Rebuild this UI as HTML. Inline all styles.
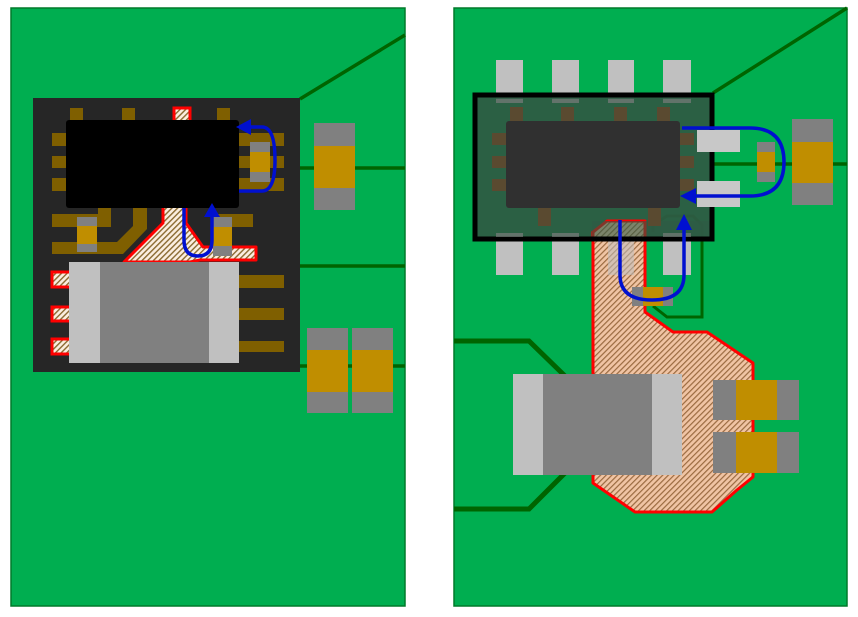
<!DOCTYPE html>
<html><head><style>html,body{margin:0;padding:0;background:#fff;}svg{display:block}</style></head>
<body>
<svg width="858" height="617" viewBox="0 0 858 617" xmlns="http://www.w3.org/2000/svg">
<defs>
<pattern id="h1" width="4" height="4" patternUnits="userSpaceOnUse" patternTransform="rotate(45)">
<rect width="4" height="4" fill="#fbeee0"/><rect width="1.4" height="4" fill="#8a6a30"/></pattern>
<pattern id="h2" width="4" height="4" patternUnits="userSpaceOnUse" patternTransform="rotate(45)">
<rect width="4" height="4" fill="#f0c4a4"/><rect width="1.2" height="4" fill="#9a6a40"/></pattern>
</defs>
<!-- LEFT BOARD -->
<rect x="11" y="8" width="394" height="598" fill="#00ae50" stroke="#007a2a" stroke-width="1.5"/>
<g stroke="#006400" stroke-width="3.5" fill="none">
<line x1="300" y1="99" x2="405" y2="35"/>
<line x1="300" y1="168" x2="405" y2="168"/>
<line x1="300" y1="266" x2="405" y2="266"/>
<line x1="300" y1="366" x2="405" y2="366"/>
</g>
<rect x="33" y="98" width="267" height="274" fill="#262626"/>
<g fill="#7f5f00">
<rect x="70" y="108" width="13" height="13"/><rect x="122" y="108" width="13" height="13"/><rect x="217" y="108" width="13" height="13"/>
<rect x="52" y="133" width="14" height="13"/><rect x="52" y="156" width="14" height="12"/><rect x="52" y="178" width="14" height="13"/>
<rect x="239" y="133" width="45" height="13"/><rect x="239" y="156" width="45" height="12"/><rect x="239" y="178" width="45" height="13"/>
<rect x="52" y="214" width="59" height="13"/><rect x="98" y="200" width="13" height="27"/>
<path d="M133 200 H147 V229 L123 254 H52 V242 H117 L133 226 Z"/>
<rect x="213" y="214" width="40" height="13"/>
<rect x="239" y="275" width="45" height="13"/><rect x="239" y="308" width="45" height="12"/><rect x="239" y="341" width="45" height="11"/>
</g>
<rect x="174" y="108" width="16" height="14" fill="url(#h1)" stroke="#f00" stroke-width="3"/>
<path d="M163 205 H186 V223 L203 247 H256 V260 H200 L190 262 H124 L163 223 Z" fill="url(#h1)" stroke="#f00" stroke-width="3" stroke-linejoin="round"/>
<rect x="52" y="272" width="20" height="15" fill="url(#h1)" stroke="#f00" stroke-width="3"/>
<rect x="52" y="307" width="20" height="14" fill="url(#h1)" stroke="#f00" stroke-width="3"/>
<rect x="52" y="339" width="20" height="15" fill="url(#h1)" stroke="#f00" stroke-width="3"/>
<rect x="66" y="120" width="173" height="88" rx="3" fill="#000"/>
<rect x="250" y="142" width="20" height="40" fill="#c08e00"/><rect x="250" y="142" width="20" height="10" fill="#808080"/><rect x="250" y="172" width="20" height="10" fill="#808080"/>
<rect x="77" y="217" width="20" height="35" fill="#c08e00"/><rect x="77" y="217" width="20" height="9" fill="#808080"/><rect x="77" y="244" width="20" height="8" fill="#808080"/>
<rect x="213" y="217" width="19" height="39" fill="#c08e00"/><rect x="213" y="217" width="19" height="10" fill="#808080"/><rect x="213" y="246" width="19" height="10" fill="#808080"/>
<rect x="69" y="262" width="170" height="101" fill="#808080"/>
<rect x="69" y="262" width="31" height="101" fill="#c0c0c0"/><rect x="209" y="262" width="30" height="101" fill="#c0c0c0"/>
<rect x="314" y="123" width="41" height="87" fill="#808080"/><rect x="314" y="146" width="41" height="42" fill="#c08e00"/>
<rect x="307" y="328" width="41" height="85" fill="#808080"/><rect x="307" y="350" width="41" height="42" fill="#c08e00"/>
<rect x="352" y="328" width="41" height="85" fill="#808080"/><rect x="352" y="350" width="41" height="42" fill="#c08e00"/>
<g fill="none" stroke="#0010d0" stroke-width="3.5">
<path d="M239 191 H262 Q275 191 275 160 Q275 127 262 127 H248"/>
<path d="M184 208 V240 Q184 256 198 256 Q212 256 212 240 V214"/>
</g>
<polygon points="236,127 251,119 251,135" fill="#0010d0"/>
<polygon points="212,203 204,217 220,217" fill="#0010d0"/>

<!-- RIGHT BOARD -->
<rect x="454" y="8" width="393" height="598" fill="#00ae50" stroke="#007a2a" stroke-width="1.5"/>
<g stroke="#006400" stroke-width="3.5" fill="none">
<line x1="713" y1="93" x2="847" y2="8"/>
<line x1="713" y1="164" x2="847" y2="164"/>
<path d="M454 341 H529 L565 376" stroke-width="5"/>
<path d="M454 509 H529 L565 473" stroke-width="5"/>
<path d="M653 232 V225 L667 216 H693 L702 225 V317 H667 L653 306" stroke-width="3"/>
</g>
<g fill="#c0c0c0">
<rect x="496" y="60" width="27" height="43"/><rect x="552" y="60" width="27" height="43"/><rect x="608" y="60" width="26" height="43"/><rect x="663" y="60" width="28" height="43"/>
<rect x="496" y="233" width="27" height="42"/><rect x="552" y="233" width="27" height="42"/><rect x="663" y="233" width="28" height="42"/>
</g>
<rect x="475" y="95" width="237" height="144" fill="#2e5a44" fill-opacity="0.93" stroke="#000" stroke-width="5"/>
<path d="M593 483 V232 L607 221 H645 V312 L673 332 H707 L753 363 V477 L737 490 L712 512 H635 L593 483 Z" fill="url(#h2)" stroke="#f00" stroke-width="3" stroke-linejoin="round"/>
<rect x="608" y="237" width="26" height="38" fill="#c0c0c0" fill-opacity="0.55"/>
<rect x="592" y="221" width="118" height="16" fill="#2e5a44" fill-opacity="0.6"/>
<rect x="475" y="95" width="237" height="144" fill="none" stroke="#000" stroke-width="5"/>
<g fill="#5a4a30">
<rect x="510" y="107" width="13" height="14"/><rect x="561" y="107" width="13" height="14"/><rect x="614" y="107" width="13" height="14"/><rect x="657" y="107" width="13" height="14"/>
<rect x="492" y="133" width="14" height="12"/><rect x="492" y="156" width="14" height="12"/><rect x="492" y="179" width="14" height="12"/>
<rect x="680" y="133" width="14" height="12"/><rect x="680" y="156" width="14" height="12"/><rect x="680" y="179" width="14" height="12"/>
<rect x="538" y="208" width="13" height="18"/><rect x="648" y="208" width="13" height="18"/>
</g>
<g fill="#7f7f7f" opacity="0.6">
<rect x="496" y="99" width="27" height="4"/><rect x="552" y="99" width="27" height="4"/><rect x="608" y="99" width="26" height="4"/><rect x="663" y="99" width="28" height="4"/>
<rect x="496" y="233" width="27" height="4"/><rect x="552" y="233" width="27" height="4"/><rect x="663" y="233" width="28" height="4"/>
</g>
<rect x="506" y="121" width="174" height="87" rx="3" fill="#303030"/>
<rect x="697" y="130" width="43" height="22" fill="#c8c8c8"/><rect x="697" y="181" width="43" height="26" fill="#c8c8c8"/>
<rect x="757" y="142" width="18" height="40" fill="#808080"/><rect x="757" y="152" width="18" height="20" fill="#c08e00"/>
<rect x="792" y="119" width="41" height="86" fill="#808080"/><rect x="792" y="142" width="41" height="41" fill="#c08e00"/>
<rect x="632" y="287" width="41" height="19" fill="#808080"/><rect x="643" y="287" width="20" height="19" fill="#c08e00"/>
<rect x="713" y="380" width="86" height="40" fill="#808080"/><rect x="736" y="380" width="41" height="40" fill="#c08e00"/>
<rect x="713" y="432" width="86" height="41" fill="#808080"/><rect x="736" y="432" width="41" height="41" fill="#c08e00"/>
<rect x="513" y="374" width="169" height="101" fill="#808080"/>
<rect x="513" y="374" width="30" height="101" fill="#c0c0c0"/><rect x="652" y="374" width="30" height="101" fill="#c0c0c0"/>
<g fill="none" stroke="#0010d0" stroke-width="3.5">
<path d="M682 128 H750 Q784 128 784 162 Q784 196 750 196 H694"/>
<path d="M620 220 V275 Q620 300 652 300 Q684 300 684 275 V228"/>
</g>
<polygon points="680,196 696,188 696,204" fill="#0010d0"/>
<polygon points="684,214 676,230 692,230" fill="#0010d0"/>
</svg>
</body></html>
